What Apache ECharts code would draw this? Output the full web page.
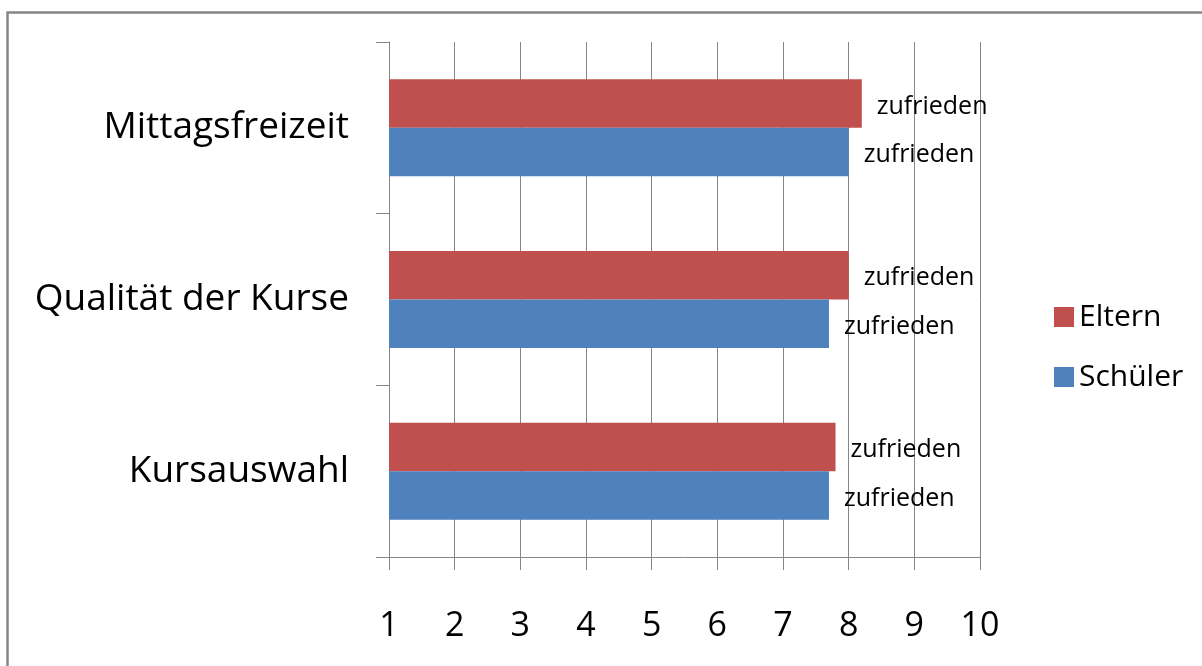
<!DOCTYPE html>
<html>
<head>
<meta charset="utf-8">
<script src="https://cdn.jsdelivr.net/npm/echarts@6/dist/echarts.min.js"></script>
<style>
html,body{margin:0;padding:0;background:#fff;}
#chart{width:1202px;height:666px;}
</style>
</head>
<body>
<div id="chart"></div>
<script>
const categories = ['Kursauswahl', 'Qualität der Kurse', 'Mittagsfreizeit'];
const eltern = [7.8, 8.0, 8.2];
const schueler = [7.7, 7.7, 8.0];
const barLabel = 'zufrieden';
const xTicks = [1, 2, 3, 4, 5, 6, 7, 8, 9, 10];

const FONT = '"Open Sans"';
const chart = echarts.init(document.getElementById('chart'), null, {renderer: 'canvas'});
const lbl = {
  show: true, position: 'right', distance: 15, offset: [0, 3],
  formatter: () => barLabel,
  color: '#000', fontFamily: FONT, fontSize: 25
};
chart.setOption({
  animation: false,
  backgroundColor: '#fff',
  textStyle: {fontFamily: FONT},
  graphic: [{
    type: 'rect', silent: true,
    shape: {x: 7.5, y: 12.5, width: 1400, height: 900},
    style: {fill: 'none', stroke: '#878787', lineWidth: 2.5}
  }],
  grid: {left: 389, right: 222, top: 42, bottom: 109, containLabel: false},
  legend: {
    orient: 'vertical', left: 1049, top: 297,
    data: ['Eltern', 'Schüler'],
    icon: 'rect', itemWidth: 20, itemHeight: 20, itemGap: 30,
    textStyle: {fontFamily: FONT, fontSize: 30, color: '#000'}
  },
  xAxis: {
    type: 'value', min: xTicks[0], max: xTicks[xTicks.length - 1], interval: 1,
    axisLine: {show: true, lineStyle: {color: '#868686', width: 1}},
    axisTick: {show: true, length: 13, lineStyle: {color: '#868686'}},
    splitLine: {show: true, lineStyle: {color: '#868686', width: 1}},
    axisLabel: {color: '#000', fontFamily: FONT, fontSize: 34, margin: 52}
  },
  yAxis: {
    type: 'category', data: categories,
    axisLine: {show: true, lineStyle: {color: '#868686', width: 1}},
    axisTick: {show: true, length: 13, lineStyle: {color: '#868686'}},
    axisLabel: {color: '#000', fontFamily: FONT, fontSize: 37, margin: 40}
  },
  series: [
    {name: 'Eltern', type: 'bar', data: eltern, itemStyle: {color: '#C0504D'},
     barGap: '0%', barCategoryGap: '43.5%', label: lbl},
    {name: 'Schüler', type: 'bar', data: schueler, itemStyle: {color: '#4F81BD'},
     barGap: '0%', barCategoryGap: '43.5%', label: lbl}
  ]
});
</script>
</body>
</html>
